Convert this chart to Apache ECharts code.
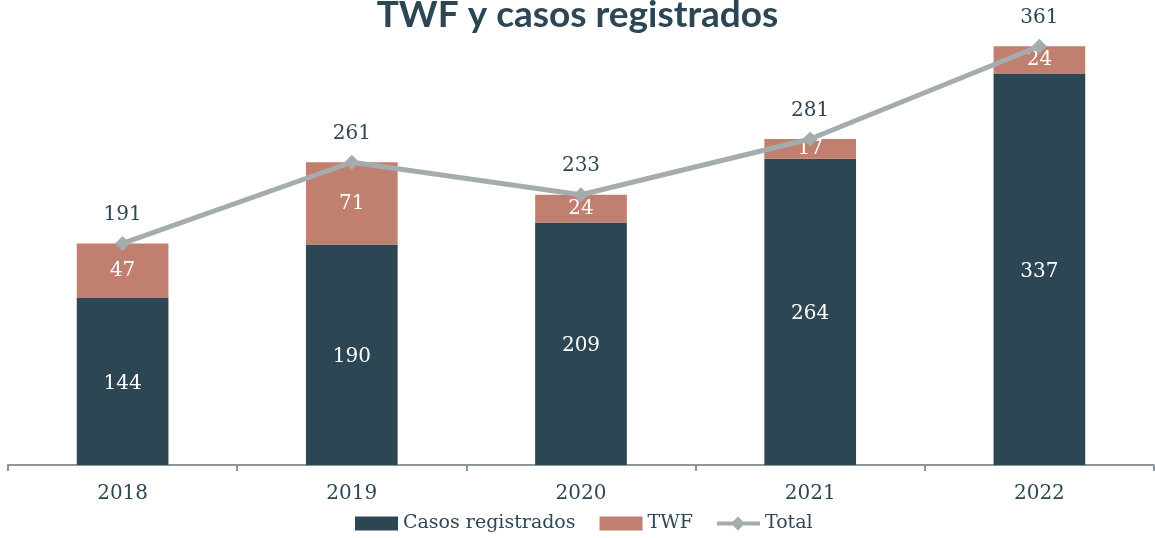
<!DOCTYPE html>
<html style="height: 100%">
<head>
    <meta charset="utf-8">
</head>
<body style="height: 100%; margin: 0; background: #fff">
<div id="container" style="width: 1155px; height: 538px"></div>
<script type="text/javascript" src="https://cdn.jsdelivr.net/npm/echarts@6/dist/echarts.min.js"></script>
<script type="text/javascript">
    var years = ['2018', '2019', '2020', '2021', '2022'];
    var casos = [144, 190, 209, 264, 337];
    var twf = [47, 71, 24, 17, 24];
    var total = [191, 261, 233, 281, 361];

    var textColor = '#2e4756';
    var serif = '"DejaVu Serif", serif';

    var dom = document.getElementById("container");
    var myChart = echarts.init(dom);
    var option = {
        backgroundColor: '#fff',
        animation: false,
        title: {
            text: 'TWF y casos registrados',
            left: 'center',
            top: -8,
            textStyle: {
                fontFamily: 'Lato',
                fontWeight: 'bold',
                fontSize: 37,
                color: '#2c4653'
            }
        },
        legend: {
            bottom: 5,
            left: 355,
            padding: 0,
            itemWidth: 43,
            itemHeight: 14,
            itemGap: 24,
            textStyle: { fontFamily: serif, fontSize: 19, color: textColor },
            data: [
                { name: 'Casos registrados', icon: 'rect' },
                { name: 'TWF', icon: 'rect' },
                { name: 'Total', icon: 'path://M0,5 L16,5 L21,0 L26,5 L43,5 L43,9 L26,9 L21,14 L16,9 L0,9 Z' }
            ]
        },
        grid: { left: 8, right: 1, top: 1, bottom: 73 },
        xAxis: {
            type: 'category',
            data: years,
            axisLine: { lineStyle: { color: '#8e9699', width: 2 } },
            axisTick: { show: true, length: 6, lineStyle: { color: '#8e9699', width: 2 } },
            axisLabel: { fontFamily: serif, fontSize: 20, color: textColor, margin: 19 }
        },
        yAxis: {
            type: 'value',
            min: 0,
            max: 400,
            show: false,
            splitLine: { show: false }
        },
        series: [
            {
                name: 'Casos registrados',
                type: 'bar',
                stack: 'a',
                data: casos,
                barWidth: '40%',
                itemStyle: { color: '#2c4653' },
                label: { show: true, position: 'inside', offset: [0, 2], fontFamily: serif, fontSize: 20, color: '#ffffff' }
            },
            {
                name: 'TWF',
                type: 'bar',
                stack: 'a',
                data: twf,
                itemStyle: { color: '#c17f6f' },
                label: { show: true, position: 'inside', fontFamily: serif, fontSize: 20, color: '#ffffff' }
            },
            {
                name: 'Total',
                type: 'line',
                data: total,
                symbol: 'diamond',
                symbolSize: 15,
                itemStyle: { color: '#a5acaf' },
                lineStyle: { color: '#a5acaf', width: 5 },
                label: { show: true, position: 'top', distance: 11, fontFamily: serif, fontSize: 20, color: textColor },
                z: 5
            }
        ]
    };
    myChart.setOption(option, true);
</script>
</body>
</html>
